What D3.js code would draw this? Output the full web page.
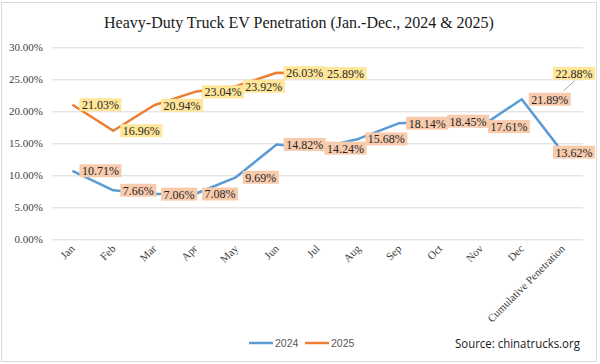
<!DOCTYPE html>
<html>
<head>
<meta charset="utf-8">
<script src="https://cdn.jsdelivr.net/npm/d3@7"></script>
<style>
  html, body { margin: 0; padding: 0; background: #fff; }
  svg { display: block; }
</style>
</head>
<body>
<svg id="chart" width="600" height="364"></svg>
<script>
// ---- Data ----
const categories = ["Jan","Feb","Mar","Apr","May","Jun","Jul","Aug","Sep","Oct","Nov","Dec","Cumulative Penetration"];
const values2024 = [10.71, 7.66, 7.06, 7.08, 9.69, 14.82, 14.24, 15.68, 18.14, 18.45, 17.61, 21.89, 13.62];
const values2025 = [21.03, 16.96, 20.94, 23.04, 23.92, 26.03, 25.89, null, null, null, null, null, 22.88];
const yTicks = [0, 5, 10, 15, 20, 25, 30];
const seriesNames = ["2024", "2025"];
const titleText = "Heavy-Duty Truck EV Penetration (Jan.-Dec., 2024 & 2025)";
const sourceText = "Source: chinatrucks.org";

// ---- Layout ----
const svg = d3.select("#chart");
const plot = { left: 52, right: 583, top: 47.3, bottom: 239.3 };
const colors = { "2024": "#5B9BD5", "2025": "#ED7D31" };
const labelFill = { "2024": "#F8CBAD", "2025": "#FFE699" };
const serif = "'Liberation Serif', 'Times New Roman', serif";

// outer border
svg.append("rect").attr("x", 1.5).attr("y", 2.5).attr("width", 595).attr("height", 359)
  .attr("fill", "#fff").attr("stroke", "#D9D9D9").attr("stroke-width", 1);

// title
svg.append("text").attr("x", 299).attr("y", 28).attr("text-anchor", "middle")
  .style("font-family", serif).style("font-size", "16px")
  .attr("fill", "#1a1a1a").text(titleText);

const x = d3.scaleBand().domain(categories).range([plot.left, plot.right]).paddingInner(0).paddingOuter(0);
const xc = d => x(d) + x.bandwidth() / 2;
const y = d3.scaleLinear().domain([0, 30]).range([plot.bottom, plot.top]);

// gridlines + y axis
const yAxis = d3.axisLeft(y).tickValues(yTicks).tickSize(-(plot.right - plot.left))
  .tickFormat(d => d.toFixed(2) + "%").tickPadding(9);
const yg = svg.append("g").attr("transform", `translate(${plot.left},0)`).call(yAxis);
yg.attr("font-family", null).attr("font-size", null);
yg.select(".domain").remove();
yg.selectAll(".tick line").attr("stroke", "#D9D9D9").attr("stroke-width", 1);
yg.selectAll(".tick text").style("font-family", serif)
  .style("font-size", "11px").attr("fill", "#404040");

// x axis labels
const xAxis = d3.axisBottom(x).tickSize(0).tickPadding(0);
const xg = svg.append("g").attr("transform", `translate(0,${plot.bottom})`).call(xAxis);
xg.attr("font-family", null).attr("font-size", null);
xg.select(".domain").remove();
xg.selectAll(".tick text")
  .style("font-family", serif)
  .style("font-size", "11px").attr("fill", "#404040")
  .attr("text-anchor", "end")
  .attr("dy", 0)
  .attr("transform", "translate(3,10) rotate(-45)");

// lines
const series = [
  { name: "2024", values: values2024 },
  { name: "2025", values: values2025 }
];
const line = d3.line()
  .defined(d => d.v != null)
  .x(d => xc(d.c)).y(d => y(d.v));

series.forEach(s => {
  const pts = categories.map((c, i) => ({ c, v: s.values[i] }));
  svg.append("path").datum(pts).attr("d", line)
    .attr("fill", "none").attr("stroke", colors[s.name]).attr("stroke-width", 2.5)
    .attr("stroke-linejoin", "round");
});

// labels
const labelsG = svg.append("g");
series.forEach(s => {
  categories.forEach((c, i) => {
    const v = s.values[i];
    if (v == null) return;
    const px = xc(c), py = y(v);
    const txt = v.toFixed(2) + "%";
    const g = labelsG.append("g");
    const t = g.append("text").style("font-family", serif).style("font-size", "12px")
      .attr("fill", "#262626").attr("dominant-baseline", "central").text(txt);
    const bb = t.node().getBBox();
    const bw = bb.width + 5, bh = 13;
    let bx = px + 7, by = py - bh / 2;
    const isCum = i === categories.length - 1;
    if (isCum && s.name === "2025") {
      bx = px - 7; by = py - 26;
      g.insert("line", "text").attr("x1", px + 1).attr("y1", py - 2)
        .attr("x2", bx + 19).attr("y2", by + bh + 1)
        .attr("stroke", "#A6A6A6").attr("stroke-width", 1);
    }
    if (bx + bw > 595) bx = 595 - bw;
    g.insert("rect", "text").attr("x", bx).attr("y", by).attr("width", bw).attr("height", bh)
      .attr("fill", labelFill[s.name]);
    t.attr("x", bx + 2.5).attr("y", by + bh / 2 + 0.5);
  });
});

// legend
const legend = svg.append("g");
const legendItems = [{ name: seriesNames[0], x: 249 }, { name: seriesNames[1], x: 305 }];
legendItems.forEach(it => {
  legend.append("line").attr("x1", it.x).attr("x2", it.x + 24).attr("y1", 343).attr("y2", 343)
    .attr("stroke", colors[it.name]).attr("stroke-width", 2.5);
  legend.append("text").attr("x", it.x + 26).attr("y", 343).attr("dominant-baseline", "central")
    .style("font-family", "'Liberation Sans', Arial, sans-serif").style("font-size", "10.5px")
    .attr("fill", "#595959").text(it.name);
});

// source (horizontally condensed to match the narrow original face)
const src = svg.append("text").attr("x", 0).attr("y", 0)
  .style("font-family", "'Open Sans', 'Noto Sans', sans-serif").style("font-size", "13.5px")
  .attr("fill", "#1a1a1a").text(sourceText);
const sw = src.node().getComputedTextLength();
src.attr("transform", `translate(455,348) scale(${125 / sw},1)`);
</script>
</body>
</html>
